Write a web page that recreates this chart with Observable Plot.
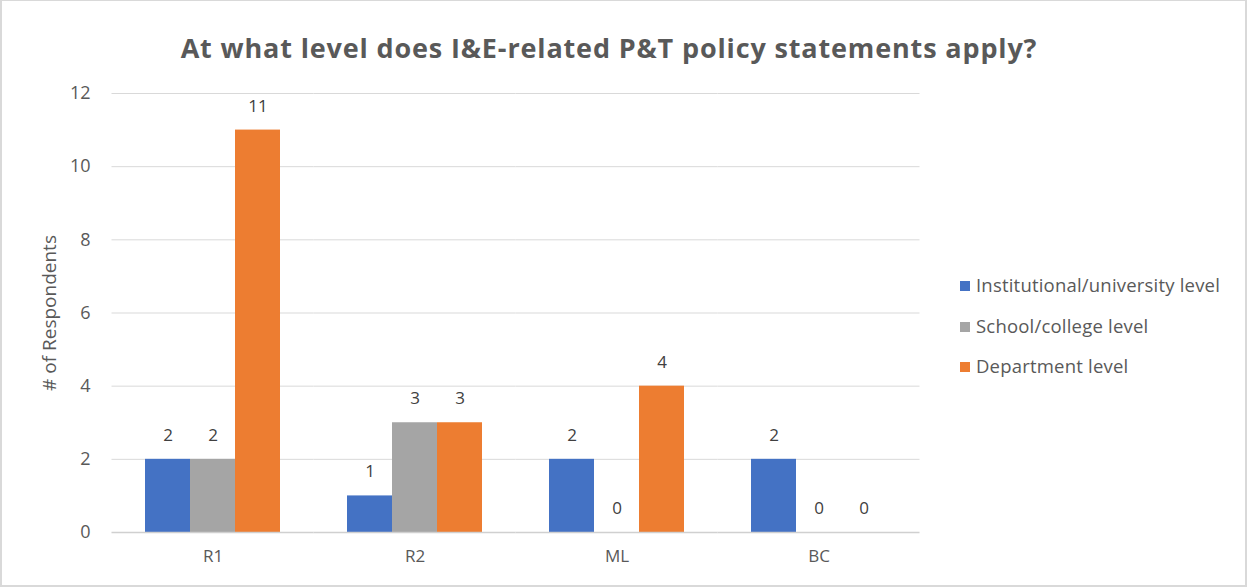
<!DOCTYPE html>
<html>
<head>
<meta charset="utf-8">
<script src="https://cdn.jsdelivr.net/npm/d3@7"></script>
<script src="https://cdn.jsdelivr.net/npm/@observablehq/plot@0.6"></script>
<style>
  body { margin: 0; background: #fff; }
  #frame { position: relative; width: 1243px; height: 584px; border: 2px solid #d9d9d9; border-top-width: 1px; box-sizing: content-box; background: #fff; overflow: hidden; font-family: "Open Sans", sans-serif; }
  #title { position: absolute; left: 0; width: 1214px; top: 28px; text-align: center; font-size: 27px; font-weight: 700; color: #595959; letter-spacing: 0.85px; }
  #chart { position: absolute; left: 0; top: 80px; }
  #ylabel { position: absolute; left: 47px; top: 312px; transform: translate(-50%, -50%) rotate(-90deg); white-space: nowrap; font-size: 19px; color: #595959; }
  #legend { position: absolute; left: 958px; top: 271px; font-size: 18.5px; color: #595959; letter-spacing: 0.2px; }
  .item { height: 40.5px; display: flex; align-items: flex-start; }
  .sw { width: 10px; height: 10px; margin-right: 6px; margin-top: 9px; flex: none; }
</style>
</head>
<body>
<div id="frame">
  <div id="title"></div>
  <div id="chart"></div>
  <div id="ylabel"></div>
  <div id="legend"></div>
</div>
<script>
const titleText = "At what level does I&E-related P&T policy statements apply?";
const yLabel = "# of Respondents";
const groups = ["R1", "R2", "ML", "BC"];
const series = ["Institutional/university level", "School/college level", "Department level"];
const institutional = [2, 1, 2, 2];
const school = [2, 3, 0, 0];
const department = [11, 3, 4, 0];
const yTicks = [0, 2, 4, 6, 8, 10, 12];
const colors = ["#4472C4", "#A5A5A5", "#ED7D31"];

const seriesValues = [institutional, school, department];
const data = groups.flatMap((g, i) => series.map((s, j) => ({group: g, series: s, value: seriesValues[j][i]})));

document.getElementById("title").textContent = titleText;
document.getElementById("ylabel").textContent = yLabel;

const legend = document.getElementById("legend");
series.forEach((s, j) => {
  const it = document.createElement("div");
  it.className = "item";
  const sw = document.createElement("span");
  sw.className = "sw";
  sw.style.background = colors[j];
  const lab = document.createElement("span");
  lab.textContent = s;
  it.appendChild(sw); it.appendChild(lab);
  legend.appendChild(it);
});

const chart = Plot.plot({
  width: 930,
  height: 491,
  marginLeft: 110,
  marginRight: 12,
  marginTop: 12,
  marginBottom: 40,
  style: {fontFamily: "Open Sans, sans-serif", fontSize: "17px", color: "#595959", background: "white", overflow: "visible"},
  facet: {data: data, x: "group"},
  fx: {domain: groups, paddingInner: 0.33, paddingOuter: 0.165, label: null},
  x: {domain: series, axis: null, padding: 0},
  y: {domain: [0, 12], ticks: yTicks, label: null},
  color: {domain: series, range: colors},
  marks: [
    Plot.ruleY(yTicks.filter(d => d > 0), {stroke: "#d9d9d9", strokeWidth: 1, insetLeft: -33.5, insetRight: -33.5}),
    Plot.barY(data, {x: "series", y: "value", fill: "series"}),
    Plot.ruleY([0], {stroke: "#d0d0d0", strokeWidth: 1.5, insetLeft: -33.5, insetRight: -33.5}),
    Plot.text(data, {x: "series", y: "value", text: d => String(d.value), dy: -24, fill: "#404040", fontSize: 17}),
    Plot.axisY(yTicks, {tickSize: 0, tickPadding: 55, fontSize: 18, label: null, fill: "#595959"}),
    Plot.axisFx({anchor: "bottom", tickSize: 0, tickPadding: 17, fontSize: 17, label: null, fill: "#595959"})
  ]
});
document.getElementById("chart").appendChild(chart);
</script>
</body>
</html>
